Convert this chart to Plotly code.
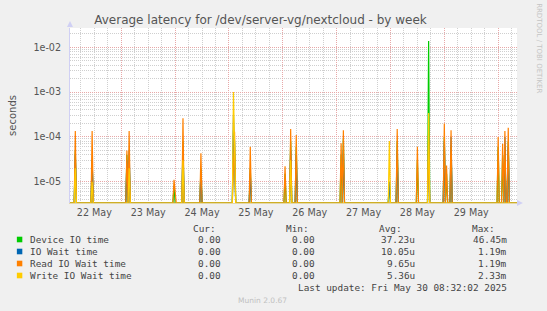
import numpy as np
import pandas as pd
import plotly.graph_objects as go

# ---------------- data (30-min averages, seconds) ----------------
start_time = "2025-05-22 01:00"
end_time = "2025-05-30 08:30"

spike_times = [
    "2025-05-22 03:30", "2025-05-22 11:00",
    "2025-05-23 02:30", "2025-05-23 03:30",
    "2025-05-23 23:30", "2025-05-24 00:00",
    "2025-05-24 03:30", "2025-05-24 11:30",
    "2025-05-25 02:00", "2025-05-25 02:30",
    "2025-05-25 09:30",
    "2025-05-26 01:00", "2025-05-26 03:30", "2025-05-26 06:00",
    "2025-05-27 02:00", "2025-05-27 03:00",
    "2025-05-27 23:30", "2025-05-28 03:00",
    "2025-05-28 12:00", "2025-05-28 17:00",
    "2025-05-29 00:00", "2025-05-29 01:00", "2025-05-29 03:00",
    "2025-05-30 00:00", "2025-05-30 02:00", "2025-05-30 03:00", "2025-05-30 04:30",
]
device_io = [
    5e-5, 3e-5,
    4e-5, 3.5e-5,
    8e-6, 0,
    8e-5, 2e-5,
    1.4e-4, 8e-5,
    2e-5,
    1.5e-5, 8e-5, 6e-5,
    4e-5, 9e-5,
    1e-5, 8e-5,
    3e-5, 1.38e-2,
    1e-4, 1.5e-5, 6.6e-5,
    6e-5, 4e-5, 6e-5, 8e-5,
]
io_wait = [
    4e-5, 3e-5,
    3e-5, 5e-5,
    0, 0,
    6e-5, 1.5e-5,
    3e-4, 4e-5,
    1.5e-5,
    0, 5e-5, 4e-5,
    0, 5e-5,
    1e-5, 5e-5,
    0, 1e-4,
    8e-5, 0, 1e-4,
    0, 0, 1e-4, 6e-5,
]
read_io = [
    1.35e-4, 1.35e-4,
    5e-5, 1.35e-4,
    1.1e-5, 7e-6,
    2.6e-4, 4.3e-5,
    2e-5, 1.3e-4,
    6e-5,
    2.2e-5, 1.5e-4, 1.1e-4,
    7.2e-5, 1.4e-4,
    0, 1.5e-4,
    6e-5, 1e-4,
    2e-4, 2.3e-5, 1.4e-4,
    1e-4, 7e-5, 1.35e-4, 1.6e-4,
]
write_io = [
    2e-5, 1e-5,
    0, 2e-5,
    0, 0,
    3e-5, 0,
    1e-3, 6e-5,
    0,
    0, 3e-5, 0,
    0, 0,
    8.1e-5, 0,
    0, 3.4e-4,
    0, 0, 0,
    0, 0, 0, 0,
]

series_names = ["Device IO time", "IO Wait time", "Read IO Wait time", "Write IO Wait time"]
series_colors = ["#00cc00", "#0066b3", "#ff8000", "#ffcc00"]
series_values = [device_io, io_wait, read_io, write_io]
cur_vals = ["0.00", "0.00", "0.00", "0.00"]
min_vals = ["0.00", "0.00", "0.00", "0.00"]
avg_vals = ["37.23u", "10.05u", "9.65u", "5.36u"]
max_vals = ["46.45m", "1.19m", "1.19m", "2.33m"]

# ---------------- layout geometry ----------------
W, H = 547, 311
L, R, T, B = 67, 517, 28, 203
Y_LOG_MIN, Y_LOG_MAX = -5.475, -1.57
floor = 10 ** Y_LOG_MIN


def px(x):
    return (x - L) / (R - L)


def py(y):
    return (B - y) / (B - T)


times = pd.date_range(start_time, end_time, freq="30min")


def build(vals):
    s = pd.Series(0.0, index=times)
    for t, v in zip(spike_times, vals):
        s[pd.Timestamp(t)] = v
    # zero is drawn at the bottom of the log scale, as rrdtool does
    return np.where(s.values > 0, s.values, floor)


fig = go.Figure()
for name, color, vals in zip(series_names, series_colors, series_values):
    fig.add_trace(go.Scatter(
        x=times, y=build(vals), mode="lines", name=name,
        line=dict(color=color, width=1.2), showlegend=False,
        hoverinfo="skip",
    ))

minor_y = [m * 10.0 ** e for e in range(-6, -1) for m in range(2, 10)]

fig.update_layout(
    width=W, height=H,
    margin=dict(l=L, r=W - R, t=T, b=H - B, pad=0),
    paper_bgcolor="#f0f0f0",
    plot_bgcolor="#ffffff",
    font=dict(family="DejaVu Sans", size=10, color="#555555"),
    title=dict(
        text="Average latency for /dev/server-vg/nextcloud - by week",
        xref="container", yref="container",
        x=260.5 / W, xanchor="center", y=1 - 20 / H, yanchor="middle",
        font=dict(size=12, color="#555555"),
    ),
    xaxis=dict(
        type="date",
        range=["2025-05-22 01:08", "2025-05-30 08:24"],
        tick0="2025-05-22 00:00", dtick=86400000,
        ticklabelmode="period", tickformat="%d %b",
        showgrid=True, gridcolor="#e8a8a8", griddash="1px,1px", gridwidth=1,
        minor=dict(dtick=6 * 3600 * 1000, tick0="2025-05-22 00:00",
                   showgrid=True, gridcolor="#cfcfcf", griddash="1px,1px"),
        ticks="", showline=True, linecolor="#e4d8a8", linewidth=1,
        zeroline=False, tickfont=dict(size=9.6, color="#555555"),
        ticklen=0,
    ),
    yaxis=dict(
        type="log",
        range=[Y_LOG_MIN, Y_LOG_MAX],
        tickvals=[1e-5, 1e-4, 1e-3, 1e-2],
        ticktext=["1e-05", "1e-04", "1e-03", "1e-02"],
        showgrid=True, gridcolor="#e8a8a8", griddash="1px,1px", gridwidth=1,
        minor=dict(tickvals=minor_y, showgrid=True, gridcolor="#cfcfcf",
                   griddash="1px,1px"),
        ticks="", showline=True, linecolor="#d0d0f4", linewidth=1,
        zeroline=False, tickfont=dict(size=9.6, color="#555555"),
        ticklabelstandoff=6,
        title=dict(text="seconds", font=dict(size=10, color="#555555"), standoff=14),
    ),
)

mono = "DejaVu Sans Mono"
ann = []
fs = 9.4
txtc = "#444444"
row_y = [239.5, 251.5, 263.5, 275.5]
# header
for label, xr in [("Cur:", 216), ("Min:", 310), ("Avg:", 403), ("Max:", 497)]:
    ann.append(dict(x=px(xr), y=py(228.5), text=label, xanchor="right"))
for i in range(4):
    ann.append(dict(x=px(25), y=py(row_y[i]), text=series_names[i], xanchor="left"))
    for vals, xr in [(cur_vals, 221), (min_vals, 316), (avg_vals, 416), (max_vals, 509)]:
        ann.append(dict(x=px(xr), y=py(row_y[i]), text=vals[i], xanchor="right"))
ann.append(dict(x=px(509), y=py(287.5), text="Last update: Fri May 30 08:32:02 2025",
                xanchor="right"))
for a in ann:
    a.update(xref="paper", yref="paper", yanchor="middle", showarrow=False,
             font=dict(family=mono, size=fs, color=txtc))

ann.append(dict(x=px(261), y=py(300), xref="paper", yref="paper", text="Munin 2.0.67",
                showarrow=False, xanchor="center", yanchor="middle",
                font=dict(family="DejaVu Sans", size=7.5, color="#c0c0c0")))
ann.append(dict(x=px(539), y=py(48), xref="paper", yref="paper",
                text="RRDTOOL / TOBI OETIKER", textangle=90,
                showarrow=False, xanchor="center", yanchor="middle",
                font=dict(family="DejaVu Sans", size=7, color="#c4c4c4")))
fig.update_layout(annotations=ann)

shapes = []
for i, c in enumerate(series_colors):
    shapes.append(dict(type="rect", xref="paper", yref="paper",
                       x0=px(13.5), x1=px(19), y0=py(row_y[i] + 2.8), y1=py(row_y[i] - 2.8),
                       fillcolor=c, line=dict(width=0)))
# axis arrow heads
shapes.append(dict(type="path", xref="paper", yref="paper",
                   path=f"M {px(64)},{py(27)} L {px(70)},{py(27)} L {px(67)},{py(21)} Z",
                   fillcolor="#d0d0f4", line=dict(width=0)))
shapes.append(dict(type="path", xref="paper", yref="paper",
                   path=f"M {px(517)},{py(200)} L {px(517)},{py(206)} L {px(523)},{py(203)} Z",
                   fillcolor="#d0d0f4", line=dict(width=0)))
fig.update_layout(shapes=shapes)

fig.write_html("out.html")
